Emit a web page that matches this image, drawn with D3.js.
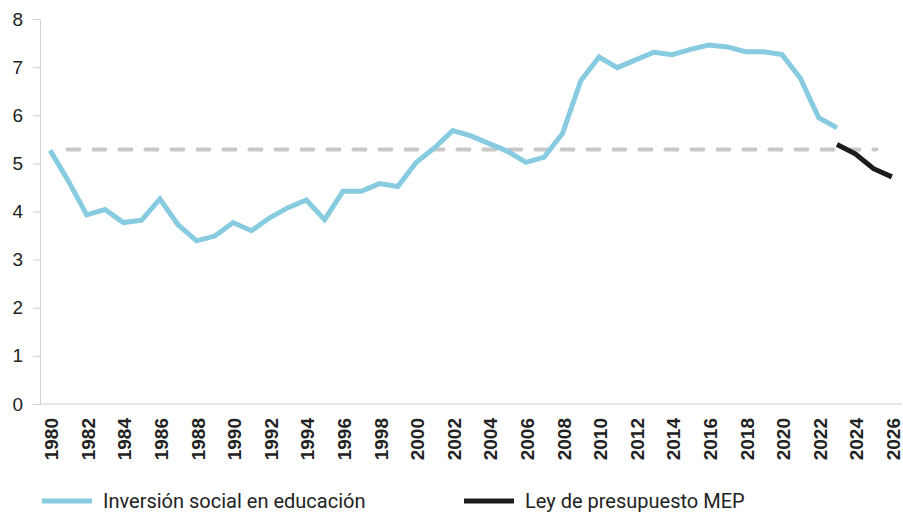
<!DOCTYPE html>
<html lang="es">
<head>
	<meta charset="utf-8" />
	<title>Inversión social en educación</title>
	<script src="https://cdnjs.cloudflare.com/ajax/libs/d3/7.8.5/d3.min.js"></script>
	<style>
		body { margin: 0; background: #fff; }
		svg { display: block; font-family: Roboto, "Noto Sans", sans-serif; }
	</style>
</head>
<body>
	<svg width="903" height="512"></svg>
	<script>
		// data
		let years = d3.range(1980, 2027);
		let inversionYears = d3.range(1980, 2024);
		let inversion = [5.27, 4.63, 3.93, 4.04, 3.77, 3.82, 4.26, 3.72, 3.39, 3.49, 3.77, 3.6,
			3.87, 4.08, 4.24, 3.83, 4.42, 4.42, 4.58, 4.52, 5.02, 5.32, 5.68, 5.57,
			5.41, 5.25, 5.02, 5.13, 5.62, 6.72, 7.21, 6.99, 7.15, 7.31, 7.26, 7.37,
			7.46, 7.42, 7.32, 7.32, 7.26, 6.77, 5.95, 5.74];
		let leyYears = [2023, 2024, 2025, 2026];
		let ley = [5.39, 5.2, 4.89, 4.72];
		let promedio = 5.29;
		let yTicks = [0, 1, 2, 3, 4, 5, 6, 7, 8];
		let legendLabels = ["Inversión social en educación", "Ley de presupuesto MEP"];
		let colors = ["#87cbe0", "#1c1c1c"];

		let svg = d3.select('svg');

		let x = d3.scalePoint()
			.domain(years)
			.range([41, 901])
			.padding(0.5);
		let y = d3.scaleLinear()
			.domain([0, 8])
			.range([404, 19]);

		// y axis
		let yAxis = svg.append('g')
			.attr('transform', 'translate(40,0)')
			.call(d3.axisLeft(y).tickValues(yTicks).tickSize(7).tickPadding(10));
		yAxis.select('.domain').attr('stroke', '#d0d0d0');
		yAxis.selectAll('.tick line').attr('stroke', '#d0d0d0');
		yAxis.selectAll('.tick text')
			.attr('fill', '#222')
			.style('font-size', '19px');

		// x axis
		let xAxis = svg.append('g')
			.attr('transform', 'translate(0,404)')
			.call(d3.axisBottom(x).tickValues(years.filter(d => d % 2 == 0)).tickSize(0).tickFormat(d3.format('d')));
		xAxis.select('.domain')
			.attr('stroke', '#d0d0d0')
			.attr('d', 'M40,0H902');
		xAxis.selectAll('.tick text')
			.attr('fill', '#222')
			.attr('transform', 'rotate(-90)')
			.attr('text-anchor', 'end')
			.attr('x', -14)
			.attr('y', 1)
			.attr('dy', '0.35em')
			.style('font-size', '19px')
			.style('font-weight', 'bold');

		// average line
		svg.append('line')
			.attr('x1', x(1981) - 1)
			.attr('x2', x(2025) + 3)
			.attr('y1', y(promedio))
			.attr('y2', y(promedio))
			.attr('stroke', '#c8c8c8')
			.attr('stroke-width', 4)
			.attr('stroke-dasharray', '12 14')
			.attr('stroke-linecap', 'round');

		let line = d3.line()
			.x(d => x(d[0]))
			.y(d => y(d[1]));

		svg.append('path')
			.datum(d3.zip(inversionYears, inversion))
			.attr('d', line)
			.attr('fill', 'none')
			.attr('stroke', colors[0])
			.attr('stroke-width', 5);

		svg.append('path')
			.datum(d3.zip(leyYears, ley))
			.attr('d', line)
			.attr('fill', 'none')
			.attr('stroke', colors[1])
			.attr('stroke-width', 5);

		// legend
		let legend = svg.selectAll('g.legend')
			.data(legendLabels)
			.enter()
			.append('g')
			.attr('class', 'legend')
			.attr('transform', (d, i) => 'translate(' + [42, 464][i] + ',501)');
		legend.append('line')
			.attr('x1', 0)
			.attr('x2', 50)
			.attr('stroke', (d, i) => colors[i])
			.attr('stroke-width', 5);
		legend.append('text')
			.attr('x', 61)
			.attr('y', 7)
			.attr('fill', '#222')
			.style('font-size', '20px')
			.text(d => d);
	</script>
</body>
</html>
